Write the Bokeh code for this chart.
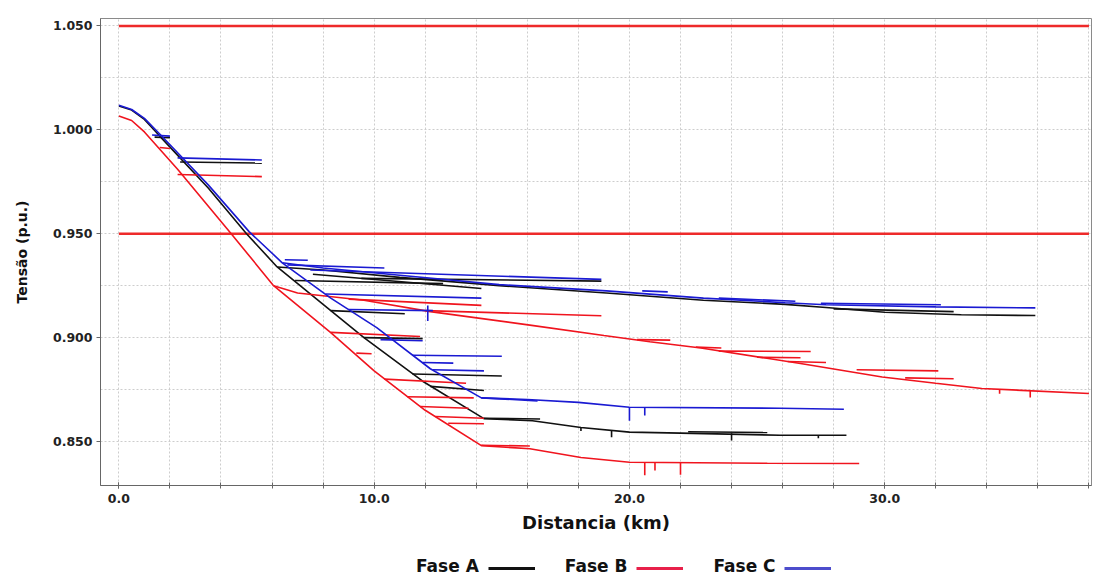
from bokeh.plotting import figure
from bokeh.layouts import column
from bokeh.models import FixedTicker, Legend, LegendItem, Range1d, NumeralTickFormatter
from bokeh.embed import file_html
from bokeh.resources import INLINE

# ---------------- data (distance in km, voltage in p.u.) ----------------
V_LIMITS = [1.05, 0.95]

# Phase A (black)
A_trunk_x = [0.0, 0.5, 1.0, 1.6, 3.5, 5.0, 6.2]
A_trunk_y = [1.0115, 1.0095, 1.005, 0.997, 0.972, 0.950, 0.934]
A_upper_x = [6.2, 8.0, 11.0, 14.9, 19.1, 22.9, 26.1, 27.7, 30.0, 33.0, 35.9]
A_upper_y = [0.934, 0.9325, 0.929, 0.925, 0.9215, 0.918, 0.916, 0.9145, 0.9122, 0.911, 0.9106]
A_lower_x = [6.2, 8.3, 9.6, 11.9, 14.3, 16.2, 18.1, 20.0, 22.0, 25.9, 28.5]
A_lower_y = [0.934, 0.913, 0.900, 0.879, 0.861, 0.860, 0.8567, 0.8545, 0.854, 0.853, 0.853]
A_branches = [(1.4, 0.9965, 2.0, 0.9962), (2.4, 0.9845, 5.6, 0.984),
              (6.9, 0.9275, 12.7, 0.926), (7.6, 0.9305, 14.2, 0.9236),
              (9.5, 0.9285, 18.9, 0.9272), (8.3, 0.913, 11.2, 0.9115),
              (9.6, 0.900, 11.9, 0.8995), (11.5, 0.8825, 15.0, 0.8815),
              (12.2, 0.8765, 14.3, 0.8745), (14.3, 0.8612, 16.5, 0.8608),
              (22.3, 0.8547, 25.4, 0.8543), (28.0, 0.9138, 32.7, 0.9125)]
A_dips = [(18.1, 0.857, 0.855), (19.3, 0.8555, 0.852), (24.0, 0.854, 0.8505), (27.4, 0.853, 0.8515)]

# Phase B (red)
B_trunk_x = [0.0, 0.5, 1.0, 2.3, 4.4, 6.06]
B_trunk_y = [1.0067, 1.0045, 0.999, 0.981, 0.950, 0.925]
B_upper_x = [6.06, 7.0, 9.6, 12.2, 16.1, 19.0, 20.8, 22.8, 26.7, 29.9, 32.0, 33.8, 38.0]
B_upper_y = [0.925, 0.9215, 0.918, 0.9125, 0.906, 0.901, 0.898, 0.895, 0.8875, 0.881, 0.878, 0.8755, 0.8731]
B_lower_x = [6.06, 8.3, 10.0, 12.0, 14.2, 16.1, 18.1, 20.0, 25.4, 29.0]
B_lower_y = [0.925, 0.9024, 0.884, 0.865, 0.848, 0.8465, 0.8423, 0.840, 0.8395, 0.8394]
B_branches = [(1.6, 0.9915, 2.0, 0.991), (2.3, 0.9785, 5.6, 0.9775),
              (9.0, 0.9185, 14.2, 0.9155), (12.0, 0.913, 18.9, 0.9105),
              (8.3, 0.9025, 11.8, 0.9005), (9.3, 0.8925, 9.9, 0.8922),
              (10.4, 0.880, 13.6, 0.878), (11.3, 0.8715, 13.9, 0.871),
              (11.8, 0.8668, 13.7, 0.866), (12.4, 0.862, 14.3, 0.8612),
              (12.9, 0.8588, 14.3, 0.8585), (14.2, 0.8482, 16.1, 0.8478),
              (20.3, 0.899, 21.6, 0.8988), (22.6, 0.8954, 23.6, 0.895),
              (23.5, 0.8935, 27.1, 0.8933), (25.0, 0.8905, 26.7, 0.8903),
              (26.2, 0.8885, 27.7, 0.888), (28.9, 0.8845, 32.1, 0.884),
              (30.8, 0.8806, 32.7, 0.8802)]
B_dips = [(20.6, 0.840, 0.8337), (21.0, 0.840, 0.836), (22.0, 0.840, 0.834),
          (34.5, 0.875, 0.873), (35.7, 0.8745, 0.8712)]

# Phase C (blue)
C_trunk_x = [0.0, 0.5, 1.0, 1.6, 3.5, 5.1, 6.4]
C_trunk_y = [1.0118, 1.0098, 1.0055, 0.998, 0.9735, 0.951, 0.936]
C_upper_x = [6.4, 8.0, 11.0, 14.9, 19.1, 22.9, 26.1, 27.7, 32.0, 35.9]
C_upper_y = [0.936, 0.9335, 0.930, 0.9255, 0.9225, 0.919, 0.9168, 0.9158, 0.9148, 0.9143]
C_lower_x = [6.4, 8.3, 10.1, 12.2, 14.2, 16.0, 18.0, 20.0, 25.9, 28.4]
C_lower_y = [0.936, 0.919, 0.9048, 0.885, 0.871, 0.8702, 0.8688, 0.8665, 0.866, 0.8655]
C_branches = [(1.3, 0.9975, 2.0, 0.997), (2.3, 0.9865, 5.6, 0.9855),
              (6.5, 0.9375, 7.4, 0.9372), (6.6, 0.935, 10.4, 0.9335),
              (7.5, 0.9325, 18.9, 0.928), (8.1, 0.921, 14.2, 0.919),
              (9.0, 0.9135, 12.3, 0.913), (10.25, 0.899, 11.9, 0.8985),
              (11.5, 0.8915, 15.0, 0.891), (11.9, 0.888, 13.1, 0.8877),
              (12.3, 0.8845, 14.3, 0.884), (14.2, 0.871, 16.4, 0.8695),
              (20.5, 0.9225, 21.5, 0.922), (23.5, 0.919, 26.5, 0.9175),
              (27.5, 0.9165, 32.2, 0.9158)]
C_dips = [(12.1, 0.9155, 0.908), (20.0, 0.8665, 0.860), (20.6, 0.8665, 0.8625)]

PHASES = ["Fase A", "Fase B", "Fase C"]
COLORS = ["#111111", "#f0141e", "#1a1ad2"]
LEGEND_COLORS = ["#111111", "#e8204a", "#4d4dcc"]


def paths(tx, ty, ux, uy, lx, ly, branches, dips):
    xs = [tx, ux, lx]
    ys = [ty, uy, ly]
    for x0, y0, x1, y1 in branches:
        xs.append([x0, x1])
        ys.append([y0, y1])
    for x, y0, y1 in dips:
        xs.append([x, x])
        ys.append([y0, y1])
    return xs, ys


data = [
    paths(A_trunk_x, A_trunk_y, A_upper_x, A_upper_y, A_lower_x, A_lower_y, A_branches, A_dips),
    paths(B_trunk_x, B_trunk_y, B_upper_x, B_upper_y, B_lower_x, B_lower_y, B_branches, B_dips),
    paths(C_trunk_x, C_trunk_y, C_upper_x, C_upper_y, C_lower_x, C_lower_y, C_branches, C_dips),
]
trunks = [(A_trunk_x, A_trunk_y), (B_trunk_x, B_trunk_y), (C_trunk_x, C_trunk_y)]

FONT = "DejaVu Sans"
W = 1094

p = figure(width=W, height=552, output_backend="svg", toolbar_location=None,
           x_range=Range1d(-0.72, 38.1), y_range=Range1d(0.8288, 1.0536),
           min_border_left=100, min_border_right=3, min_border_top=18, min_border_bottom=67)
p.background_fill_color = "white"
p.outline_line_color = "#8a8a8a"
p.outline_line_width = 1

# limit lines
x_max = max(max(B_upper_x), max(A_upper_x), max(C_upper_x))
for v in V_LIMITS:
    p.line([0.0, x_max], [v, v], line_color="#ee2a2a", line_width=2.6)

renderers = []
for (xs, ys), color in zip(data, COLORS):
    r = p.multi_line(xs=xs, ys=ys, line_color=color, line_width=1.6)
    renderers.append(r)

# ticks / grid
p.xaxis.ticker = FixedTicker(ticks=[0, 10, 20, 30], minor_ticks=list(range(0, 40, 2)))
p.xgrid.ticker = FixedTicker(ticks=list(range(0, 40, 2)))
p.xaxis.formatter = NumeralTickFormatter(format="0.0")
p.yaxis.ticker = FixedTicker(ticks=[0.85, 0.90, 0.95, 1.00, 1.05],
                             minor_ticks=[0.85, 0.875, 0.90, 0.925, 0.95, 0.975, 1.0, 1.025, 1.05])
p.ygrid.ticker = FixedTicker(ticks=[0.85, 0.875, 0.90, 0.925, 0.95, 0.975, 1.0, 1.025, 1.05])
p.yaxis.formatter = NumeralTickFormatter(format="0.000")

for g in (p.xgrid, p.ygrid):
    g.grid_line_color = "#cdcdcd"
    g.grid_line_dash = "2 2"
    g.grid_line_width = 1

for ax in (p.xaxis, p.yaxis):
    ax.axis_line_color = "#666666"
    ax.major_tick_line_color = "#666666"
    ax.minor_tick_line_color = "#666666"
    ax.major_label_text_font = FONT
    ax.major_label_text_font_style = "bold"
    ax.major_label_text_font_size = "12.5px"
    ax.major_label_text_color = "#222222"
    ax.axis_label_text_font = FONT
    ax.axis_label_text_font_style = "bold"
    ax.axis_label_text_color = "#111111"

p.xaxis.axis_label_text_font_size = "18px"
p.yaxis.axis_label_text_font_size = "14px"
p.xaxis.major_tick_in = 3
p.xaxis.major_tick_out = 3
p.xaxis.minor_tick_in = 3
p.xaxis.minor_tick_out = 3
p.yaxis.major_tick_in = 0
p.yaxis.major_tick_out = 4
p.yaxis.minor_tick_in = 0
p.yaxis.minor_tick_out = 0
p.xaxis.major_label_standoff = 5
p.yaxis.major_label_standoff = 4
p.xaxis.axis_label = "Distancia (km)"
p.yaxis.axis_label = "Tensão (p.u.)"
p.xaxis.axis_label_standoff = 6
p.yaxis.axis_label_standoff = 20

# ---------------- legend row: label first, then line sample ----------------
# (the column aligns this row's frame with the chart frame, so x is frame-relative;
#  the proxy lines carry the trunk data but lie outside this row's y range)
lf = figure(width=W, height=24, output_backend="svg", toolbar_location=None,
            x_axis_type=None, y_axis_type=None, min_border=0,
            x_range=Range1d(0, 1), y_range=Range1d(5, 6))
lf.outline_line_color = None
lf.grid.visible = False
legend_renderers = [lf.line(tx, ty, line_color=c, line_width=3)
                    for (tx, ty), c in zip(trunks, LEGEND_COLORS)]

text_legend = Legend(items=[LegendItem(label=n, renderers=[r]) for n, r in zip(PHASES, legend_renderers)],
                     orientation="horizontal", location=(316, 0))
text_legend.glyph_width = 0
text_legend.label_standoff = 0
text_legend.spacing = 86

line_legend = Legend(items=[LegendItem(label=" ", renderers=[r]) for r in legend_renderers],
                     orientation="horizontal", location=(388, 0))
line_legend.glyph_width = 47
line_legend.label_standoff = 0
line_legend.spacing = 81

for lg in (text_legend, line_legend):
    lg.label_text_font = FONT
    lg.label_text_font_style = "bold"
    lg.label_text_font_size = "17px"
    lg.label_text_color = "#111111"
    lg.glyph_height = 16
    lg.border_line_color = None
    lg.background_fill_alpha = 0
    lg.padding = 2
    lg.margin = 0
    lf.add_layout(lg, "center")

open("out.html", "w").write(file_html(column(p, lf), INLINE))
